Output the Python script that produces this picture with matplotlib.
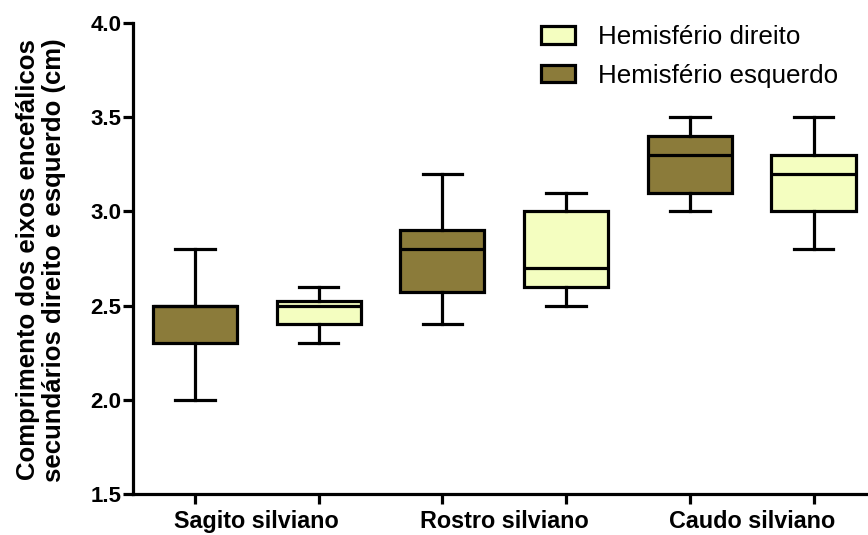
import matplotlib
matplotlib.use("Agg")
import matplotlib.pyplot as plt
from matplotlib.patches import Patch

plt.rcParams['font.family'] = ['Liberation Sans', 'DejaVu Sans']

groups = ["Sagito silviano", "Rostro silviano", "Caudo silviano"]
series = ["Hemisfério esquerdo", "Hemisfério direito", "Hemisfério esquerdo",
          "Hemisfério direito", "Hemisfério esquerdo", "Hemisfério direito"]
whislo = [2.0, 2.3, 2.4, 2.5, 3.0, 2.8]
q1     = [2.3, 2.4, 2.57, 2.6, 3.1, 3.0]
med    = [2.5, 2.5, 2.8, 2.7, 3.3, 3.2]
q3     = [2.5, 2.525, 2.9, 3.0, 3.4, 3.3]
whishi = [2.8, 2.6, 3.2, 3.1, 3.5, 3.5]

colors = {"Hemisfério direito": "#f4fec0", "Hemisfério esquerdo": "#8b7b3a"}

fig = plt.figure(figsize=(8.68, 5.35), dpi=100)
ax = fig.add_axes([133/868, 1-494/535, 1-133/868, (494-23)/535])

stats = []
for i in range(6):
    stats.append(dict(whislo=whislo[i], q1=q1[i], med=med[i], q3=q3[i],
                      whishi=whishi[i], fliers=[]))
positions = list(range(1, 7))
lw = 2.3
bp = ax.bxp(stats, positions=positions, widths=0.68, patch_artist=True,
            showfliers=False,
            boxprops=dict(linewidth=lw, edgecolor='black'),
            medianprops=dict(color='black', linewidth=lw),
            whiskerprops=dict(color='black', linewidth=lw),
            capprops=dict(color='black', linewidth=lw),
            capwidths=0.32)
for patch, s in zip(bp['boxes'], series):
    patch.set_facecolor(colors[s])

ax.set_xlim(0.5, 6.44)
ax.set_ylim(1.5, 4.0)
ax.set_yticks([1.5, 2.0, 2.5, 3.0, 3.5, 4.0])
ax.set_yticklabels(["1.5", "2.0", "2.5", "3.0", "3.5", "4.0"],
                   fontsize=16, fontweight='bold')
ax.set_xticks(positions)
ax.set_xticklabels([])
for j, g in enumerate(groups):
    ax.text(2*j + 1.5, -0.035, g, transform=ax.get_xaxis_transform(),
            ha='center', va='top', fontsize=16.8, fontweight='bold')

for sp in ['top', 'right']:
    ax.spines[sp].set_visible(False)
for sp in ['left', 'bottom']:
    ax.spines[sp].set_linewidth(2.3)
ax.tick_params(axis='both', width=2.3, length=7, direction='out')
ax.tick_params(axis='y', pad=1.5)

fig.text(41/868, 1-260/535,
         "Comprimento dos eixos encefálicos\nsecundários direito e esquerdo (cm)",
         rotation=90, ha='center', va='center', fontsize=18.5,
         fontweight='bold', multialignment='center', linespacing=1.15)

handles = [Patch(facecolor=colors["Hemisfério direito"], edgecolor='black', linewidth=2.3),
           Patch(facecolor=colors["Hemisfério esquerdo"], edgecolor='black', linewidth=2.3)]
fig.legend(handles, ["Hemisfério direito", "Hemisfério esquerdo"],
           loc='upper left', bbox_to_anchor=(541/868, 1-25/535),
           frameon=False, fontsize=18.7, handlelength=1.3, handleheight=0.65,
           handletextpad=0.88, labelspacing=0.56, borderpad=0, borderaxespad=0)

fig.savefig("out.png", dpi=100)
